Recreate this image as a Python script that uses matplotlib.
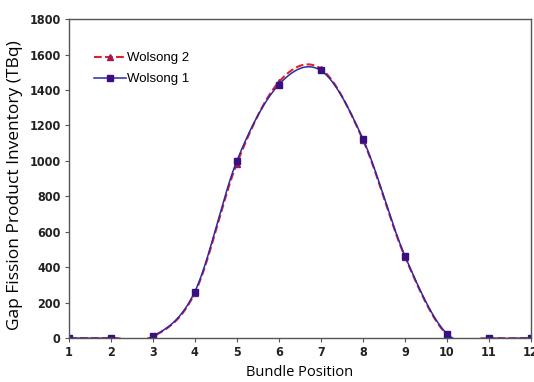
import numpy as np
import matplotlib
matplotlib.use('Agg')
import matplotlib.pyplot as plt
from matplotlib import font_manager

positions = [1, 2, 3, 4, 5, 6, 7, 8, 9, 10, 11, 12]
wolsong2 = [0, 0, 8, 255, 985, 1445, 1520, 1120, 460, 20, 0, 0]
wolsong1 = [0, 0, 10, 262, 1000, 1430, 1510, 1125, 465, 25, 0, 0]
yticks = [0, 200, 400, 600, 800, 1000, 1200, 1400, 1600, 1800]


def smooth(x, y, n=30):
    # excel-like smoothed line (catmull-rom through the points)
    x = np.asarray(x, float)
    y = np.asarray(y, float)
    xs, ys = [], []
    for i in range(len(x) - 1):
        p0 = y[i - 1] if i > 0 else y[i]
        p3 = y[i + 2] if i + 2 < len(y) else y[i + 1]
        m0 = (y[i + 1] - p0) / 2
        m1 = (p3 - y[i]) / 2
        t = np.linspace(0, 1, n)
        h00 = 2 * t**3 - 3 * t**2 + 1
        h01 = -2 * t**3 + 3 * t**2
        h10 = t**3 - 2 * t**2 + t
        h11 = t**3 - t**2
        xs.append(x[i] + t * (x[i + 1] - x[i]))
        ys.append(h00 * y[i] + h01 * y[i + 1] + h10 * m0 + h11 * m1)
    return np.concatenate(xs), np.concatenate(ys)


# narrow bold font for the tick labels if one is around
tick_prop = None
for f in font_manager.fontManager.ttflist:
    fn = f.fname.lower()
    if ('narrow' in fn or 'condensed' in fn) and 'bold' in fn and 'oblique' not in fn \
            and 'italic' not in fn:
        tick_prop = font_manager.FontProperties(fname=f.fname, size=9)
        break
if tick_prop is None:
    tick_prop = font_manager.FontProperties(family='DejaVu Sans', weight='bold', size=8.5)

fig = plt.figure(figsize=(5.34, 3.82), dpi=100)
ax = fig.add_axes([0.129, 0.115, 0.865, 0.835])

c2 = '#e0202a'
c1 = '#2a2aa8'

sx, sy = smooth(positions, wolsong2)
ax.plot(sx, sy, color=c2, linestyle='--', linewidth=1.5)
ax.plot(positions, wolsong2, linestyle='none', marker='^', markersize=4.5,
        color='#8a1a6a')
sx, sy = smooth(positions, wolsong1)
ax.plot(sx, sy, color=c1, linestyle='-', linewidth=1.1)
ax.plot(positions, wolsong1, linestyle='none', marker='s', markersize=4,
        color='#3a1080')

# legend handles
ax.plot([], [], color=c2, linestyle='--', linewidth=1.5, marker='^',
        markersize=4.5, markerfacecolor='#a01a50', markeredgecolor='#a01a50',
        label='Wolsong 2')
ax.plot([], [], color=c1, linestyle='-', linewidth=1.1, marker='s',
        markersize=4, markerfacecolor='#3a1080', markeredgecolor='#3a1080',
        label='Wolsong 1')
ax.legend(loc='upper left', bbox_to_anchor=(0.035, 0.925), frameon=False,
          prop={'family': 'Liberation Sans', 'size': 9.5},
          handlelength=2.4, handletextpad=0.1, labelspacing=0.65,
          borderaxespad=0.3)

ax.set_xlim(1, 12)
ax.set_ylim(0, 1800)
ax.set_xticks(positions)
ax.set_yticks(yticks)
for lab in ax.get_xticklabels() + ax.get_yticklabels():
    lab.set_fontproperties(tick_prop)
    lab.set_color('#222222')
ax.tick_params(axis='both', direction='out', length=3, width=0.8, colors='#555555',
               labelcolor='#222222', pad=3)
for s in ax.spines.values():
    s.set_color('#555555')
    s.set_linewidth(1.0)

ax.set_xlabel('Bundle Position', fontsize=10.5, fontfamily='Open Sans', labelpad=4)
ax.set_ylabel('Gap Fission Product Inventory (TBq)', fontsize=12.5,
              fontfamily='Open Sans', labelpad=3)
ax.yaxis.set_label_coords(-0.1, 0.48)

fig.savefig('out.png', dpi=100)
